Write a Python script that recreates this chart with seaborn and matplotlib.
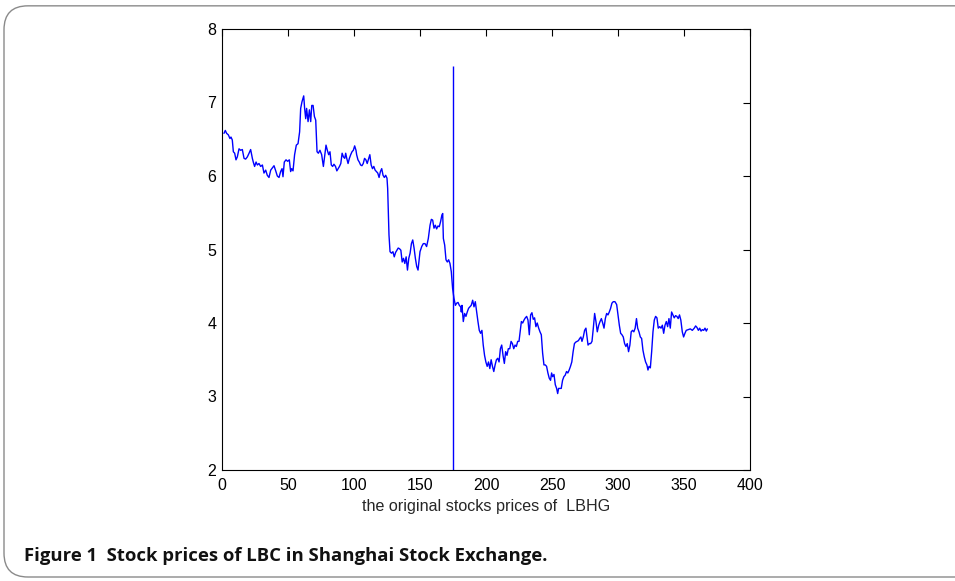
import numpy as np
import pandas as pd
import seaborn as sns
import matplotlib.pyplot as plt
from matplotlib.patches import FancyBboxPatch

# Trading day index and closing price (LBHG)
days = [
    1.5, 2.5, 3.5, 4.8, 6, 6.8, 7.8, 8.6, 9.6, 10.6, 11.6, 12.9, 14.1, 15.4, 16.7, 17.9,
    19.2, 20.5, 21.7, 23, 23.7, 24.7, 25.8, 26.8, 28, 29.3, 30.6, 31.8, 33.1, 34.3, 35.6,
    36.9, 38.1, 39.4, 40.7, 41.9, 43.2, 44.4, 45.5, 46.2, 47.2, 48.5, 49.7, 51, 52, 52.8,
    53.8, 55, 56.3, 57.6, 58.8, 59.6, 60.6, 61.9, 62.6, 63.4, 64.1, 65.2, 66.2, 67.2, 68,
    69, 70, 71, 72, 73,
    74.2, 75.5, 76.8, 78, 78.8, 79.8, 80.8, 81.8, 82.8, 83.8, 84.8, 86, 87, 88, 89, 90,
    91, 92, 93, 93.7, 94.5, 95.5, 96.5, 97.5, 98.5, 99.5, 100.5, 101.5, 102, 103, 104,
    105, 106, 107, 108, 109, 110, 111, 112, 113, 114, 115, 116, 117, 118, 119, 120, 121,
    122, 123, 124, 125, 125.5, 126, 126.5, 127.3, 128.4, 129.5, 130.5, 131.5, 132.5,
    133.5, 134.5, 135.5, 136.5, 137.5, 138.5, 139.5, 140.5, 141.5, 142.5, 143.5, 144.5,
    145.5, 146.5, 147.5, 148.5,
    150, 151.3, 152.5, 153.8, 155, 156.3, 157.6, 158.6, 159.6, 160.6, 161.6, 162.6,
    163.6, 164.6, 165.6, 166.6, 167.2, 167.7, 168.7, 169.7, 170.7, 171.7, 172.7, 173.7,
    174.7, 175.7, 176.8, 177.8, 178.8, 179.8, 180.8, 181.3, 181.8, 182.8, 183.8, 184.8,
    185.8, 186.8, 187.8, 188.8, 189.9, 190.9, 191.9, 192.9, 193.9, 194.9, 195.9, 196.9,
    197.9, 198.9, 199.9, 200.9, 201.9, 202.9, 203.9, 204.9, 205.9, 206.9, 207.9, 208.9,
    209.9, 210.9, 211.9, 212.9, 213.9, 214.9, 215.9, 216.9, 218, 219, 220, 221, 222,
    223, 224, 225,
    226.8, 227.8, 228.8, 229.8, 230.8, 231.8, 232.8, 233.8, 234.8, 235.8, 236.8, 237.8,
    238.8, 239.9, 240.9, 241.9, 242.9, 243.9, 244.9, 245.9, 246.9, 247.9, 248.9, 249.7,
    250.5, 251.5, 252.5, 253.5, 254.3, 255, 256, 257, 258, 259, 260, 261, 262, 263, 264,
    265, 266, 267, 268, 269, 270, 271, 271.9, 272.7, 273.7, 274.7, 275.7, 276.5, 277.3,
    278.3, 279.3, 280.3, 281.3, 282.3, 283.3, 284.3, 285.4, 286.4, 287.4, 288.4, 289.4,
    290.4, 291.4, 292.4, 293.4, 294.4, 295.4, 296.4,
    297.7, 299, 300, 301, 302, 303, 304, 305, 306, 307, 308, 309, 310, 311, 312, 313,
    314, 314.9, 315.9, 316.9, 317.9, 318.9, 319.9, 320.9, 321.9, 322.7, 323.5, 324.5,
    325.5, 326.5, 327.5, 328.5, 329.5, 330.5, 331.6, 332.6, 333.6, 334.6, 335.6, 336.6,
    337.6, 338.6, 339.6, 340.6, 341.6, 342.6, 343.6, 344.6, 345.6, 346.6, 347.6, 348.7,
    349.7, 350.7, 351.7, 353.3, 354.8, 356.3, 357.8, 358.8, 359.8, 360.9, 361.9, 362.9,
    363.9, 364.9, 365.9, 366.9, 367.7,
]

prices = [
    6.58, 6.62, 6.58, 6.56, 6.51, 6.53, 6.49, 6.33, 6.31, 6.22, 6.26, 6.37, 6.35, 6.36,
    6.24, 6.23, 6.26, 6.31, 6.36, 6.24, 6.19, 6.13, 6.19, 6.15, 6.17, 6.13, 6.15, 6.04,
    6.08, 6.01, 5.98, 6.08, 6.11, 6.14, 6.07, 6.00, 5.98, 6.06, 6.10, 5.99, 6.19, 6.22,
    6.20, 6.22, 6.06, 6.10, 6.07, 6.29, 6.42, 6.44, 6.60, 6.92, 7.01, 7.09, 6.92, 6.78,
    6.92, 6.74, 6.90, 6.74, 6.96, 6.96, 6.81, 6.76, 6.33, 6.31,
    6.35, 6.29, 6.13, 6.31, 6.42, 6.35, 6.29, 6.33, 6.15, 6.13, 6.16, 6.13, 6.07, 6.10,
    6.13, 6.17, 6.31, 6.26, 6.24, 6.31, 6.24, 6.17, 6.24, 6.29, 6.33, 6.35, 6.41, 6.35,
    6.29, 6.22, 6.19, 6.15, 6.14, 6.17, 6.24, 6.22, 6.17, 6.23, 6.29, 6.15, 6.10, 6.13,
    6.08, 6.06, 6.04, 5.98, 6.06, 6.10, 6.01, 5.98, 6.01, 5.97, 5.83, 5.51, 5.20, 4.97,
    4.95, 4.97, 4.90, 4.96, 4.99, 5.02, 5.01, 4.99, 4.83, 4.88, 4.81, 4.90, 4.72, 4.88,
    4.95, 5.08, 5.13, 5.02, 4.88, 4.77, 4.72,
    4.97, 5.04, 5.08, 5.08, 5.04, 5.15, 5.33, 5.41, 5.40, 5.29, 5.33, 5.28, 5.32, 5.31,
    5.38, 5.47, 5.49, 5.15, 5.06, 4.86, 4.83, 4.86, 4.81, 4.70, 4.47, 4.34, 4.24, 4.27,
    4.28, 4.24, 4.22, 4.15, 4.24, 4.02, 4.13, 4.09, 4.15, 4.20, 4.22, 4.24, 4.31, 4.22,
    4.29, 4.15, 4.02, 3.90, 3.86, 3.90, 3.70, 3.56, 3.47, 3.41, 3.47, 3.38, 3.50, 3.41,
    3.34, 3.43, 3.50, 3.52, 3.47, 3.65, 3.70, 3.56, 3.45, 3.61, 3.56, 3.65, 3.65, 3.75,
    3.72, 3.65, 3.70, 3.68, 3.75, 3.75,
    4.02, 4.00, 4.04, 4.07, 4.09, 4.04, 3.84, 4.11, 4.14, 4.05, 4.07, 3.95, 4.00, 3.93,
    3.88, 3.84, 3.59, 3.43, 3.43, 3.41, 3.32, 3.25, 3.22, 3.32, 3.27, 3.30, 3.16, 3.11,
    3.04, 3.11, 3.11, 3.11, 3.22, 3.27, 3.29, 3.34, 3.32, 3.36, 3.41, 3.47, 3.61, 3.72,
    3.74, 3.75, 3.76, 3.79, 3.81, 3.75, 3.81, 3.90, 3.93, 3.81, 3.70, 3.72, 3.72, 3.75,
    3.93, 4.13, 4.02, 3.88, 3.97, 4.02, 4.06, 4.00, 3.93, 4.06, 4.13, 4.11, 4.15, 4.20,
    4.27, 4.29,
    4.29, 4.25, 4.11, 3.97, 3.86, 3.84, 3.81, 3.72, 3.68, 3.72, 3.61, 3.70, 3.88, 3.90,
    3.88, 3.93, 4.06, 3.93, 3.88, 3.81, 3.79, 3.63, 3.54, 3.47, 3.43, 3.36, 3.41, 3.39,
    3.61, 3.88, 4.04, 4.09, 4.07, 3.93, 3.95, 3.93, 3.97, 3.86, 3.97, 4.02, 3.95, 4.06,
    3.93, 4.15, 4.11, 4.07, 4.10, 4.09, 4.06, 4.11, 4.04, 3.88, 3.81, 3.86, 3.90, 3.91,
    3.92, 3.90, 3.93, 3.96, 3.94, 3.90, 3.93, 3.89, 3.91, 3.90, 3.93, 3.89, 3.92,
]

# Change point marker
break_day = 175
break_top = 7.5

x_ticks = [0, 50, 100, 150, 200, 250, 300, 350, 400]
y_ticks = [2, 3, 4, 5, 6, 7, 8]

xlabel = "the original stocks prices of  LBHG"
caption = "Figure 1  Stock prices of LBC in Shanghai Stock Exchange."

sns.set_theme(style="white")
plt.rcParams["font.family"] = ["Liberation Sans", "DejaVu Sans"]

df = pd.DataFrame({"day": days, "price": prices})

fig = plt.figure(figsize=(9.55, 5.81), dpi=100)
ax = fig.add_axes([222 / 955, 1 - 470 / 581, (750 - 222) / 955, (470 - 29) / 581])

sns.lineplot(data=df, x="day", y="price", ax=ax, color="#0000ff",
             linewidth=1.0, estimator=None, sort=False)
ax.vlines(break_day, y_ticks[0], break_top, color="#0000ff", linewidth=1.0)

ax.set_xlim(x_ticks[0], x_ticks[-1])
ax.set_ylim(y_ticks[0], y_ticks[-1])
ax.set_xticks(x_ticks)
ax.set_yticks(y_ticks)
ax.set_xlabel(xlabel, fontsize=11.6, labelpad=4)
ax.set_ylabel("")
ax.tick_params(direction="in", top=True, right=True, length=5, width=0.8,
               labelsize=11.5, color="black", labelcolor="black")
ax.tick_params(axis="x", pad=6)
ax.tick_params(axis="y", pad=4)
for s in ax.spines.values():
    s.set_visible(True)
    s.set_color("black")
    s.set_linewidth(0.8)
ax.set_facecolor("white")

# Rounded figure frame and caption
frame = FancyBboxPatch((4 / 955, 4 / 581), 1.05, (578 - 4) / 581 - 4 / 581 + 0.002,
                       boxstyle="round,pad=0,rounding_size=0.025",
                       transform=fig.transFigure, facecolor="none",
                       edgecolor="#8a8a8a", linewidth=1.0, mutation_aspect=955 / 581)
fig.patches.append(frame)
fig.text(24 / 955, 1 - 556 / 581, caption, fontsize=13.3, fontweight="bold",
         family=["Open Sans", "DejaVu Sans"], ha="left", va="center", color="#111111")

fig.savefig("out.png", dpi=100)
